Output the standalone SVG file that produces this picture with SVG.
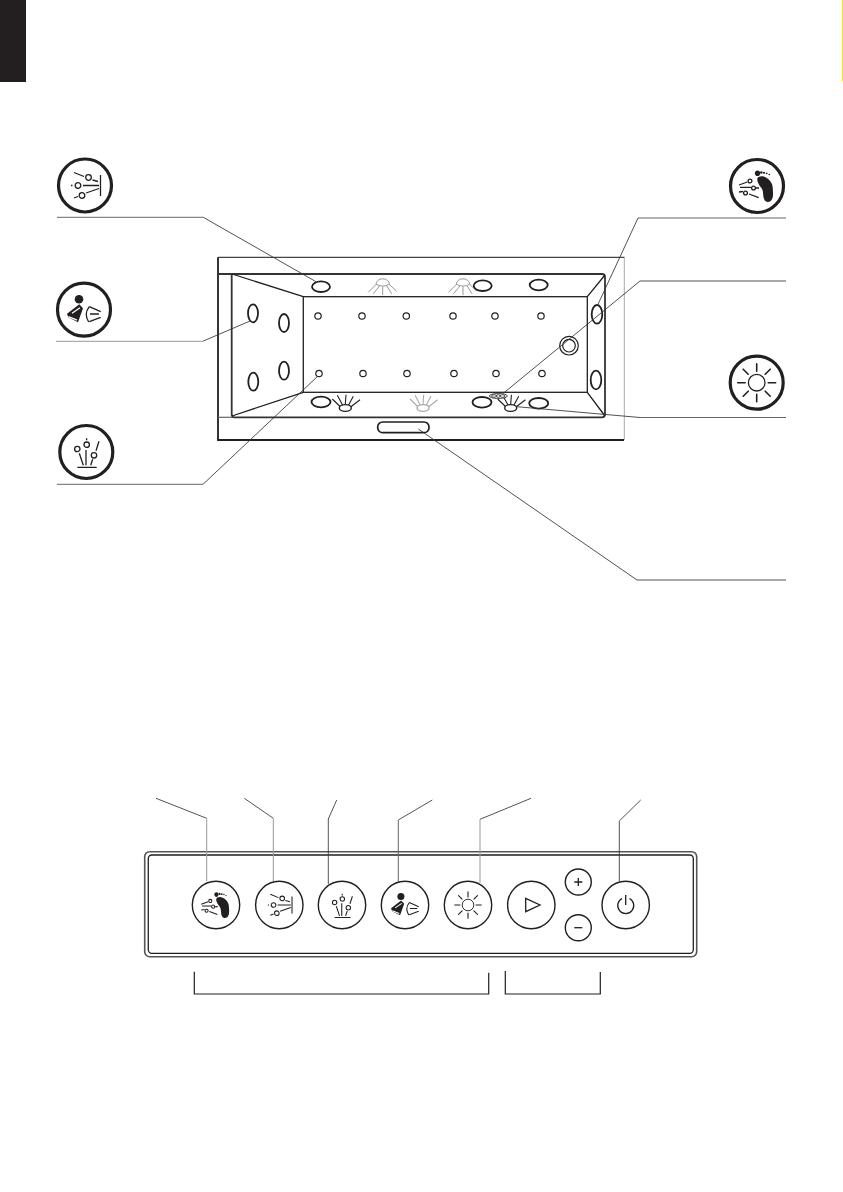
<svg xmlns="http://www.w3.org/2000/svg" xmlns:xlink="http://www.w3.org/1999/xlink" width="843" height="1192" viewBox="0 0 843 1192">
<style>
.i{fill:none;stroke:#231f20;stroke-width:1.3;}
.f{fill:#231f20;stroke:none;}
.ring{fill:none;stroke:#231f20;stroke-width:3.2;}
.btn{fill:none;stroke:#231f20;stroke-width:1.4;}
.t{fill:#fff;stroke:#231f20;stroke-width:1.2;}
.el{fill:#fff;stroke:#231f20;stroke-width:1.8;}
.h{fill:#fff;stroke:#231f20;stroke-width:.8;}
.tub{fill:none;stroke:#231f20;stroke-width:1.3;}
.rim{fill:none;stroke:#333;stroke-width:1.8;stroke-linejoin:round;}
.l{fill:none;stroke:#333;stroke-width:.85;}
.lg{fill:none;stroke:#999;stroke-width:1;}
.lm{fill:none;stroke:#666;stroke-width:1;}
.b{fill:none;stroke:#231f20;stroke-width:1.2;}
</style>
<defs>
<g id="jets"><path class="i" d="M15.500-10.500V10.500M-11-13L-1-9M7.500-5.500L13-4M-14 0H-12.500M-2 0H14M-11 12.500L-7 11M1 7.500L14 3"/><circle class="i" cx="3.500" cy="-8" r="2.800"/><circle class="i" cx="-7" cy="0" r="2.800"/><circle class="i" cx="-3" cy="10" r="2.800"/></g>
<g id="foot"><path class="f" d="M1.500-9C7-12 14.500-6 15.500 0C16 5 16.500 9 15.500 12C14 17 8.500 17 7 13C5.500 9 7 5 4 1.500C1.500-1.500-1.500-7 1.500-9Z"/><ellipse class="f" cx=".5" cy="-12.700" rx="2.600" ry="2.800"/><circle class="f" cx="4.300" cy="-13.500" r="1.300"/><circle class="f" cx="7" cy="-13.200" r="1.100"/><circle class="f" cx="9.700" cy="-12.700" r=".9"/><circle class="f" cx="12.200" cy="-11.500" r=".8"/><path class="i" d="M-18-1L-9.700-4M-17 1.300H-6M-1 2H2M-18 6L-14 5.500M-8 8L1.700 11.700"/><circle class="i" cx="-7" cy="-5" r="1.900"/><circle class="i" cx="-3.500" cy="2" r="1.900"/><circle class="i" cx="-11.500" cy="7" r="1.900"/></g>
<g id="person"><circle class="f" cx="-5" cy="-10.400" r="4.300"/><path class="f" d="M-17 4L-4.700-5.500L-1-1.500L-6 12.500L-15.700 7.600Z"/><path d="M-12 3.500L-4-2M-15.500 7L-7 10.500" fill="none" stroke="#fff" stroke-width="1.300"/><path class="i" d="M5.300-3Q-.5 4.300 4.700 12.300M5.300-3L16.700 2M5.300 12L16.700 7.600M6 4.300H15"/></g>
<g id="nozzle"><circle class="i" cx="-9" cy="-3" r="2.700"/><circle class="i" cx=".4" cy="-7.300" r="2.700"/><circle class="i" cx="7.700" cy="3.300" r="2.700"/><path class="i" d="M-9 15.300H10.400M.3-13.700V-11.700M-.3-2V13.300M-7 1.300L-3 13.300M4.400 13.300L6.400 7.300M9.700-1.300L12.700-10.700"/></g>
<g id="sun"><circle class="i" cx="0" cy="0" r="8.300"/><path fill="none" stroke="#231f20" stroke-width="1.600" stroke-linecap="round" d="M0-11.500V-19M0 11.500V19M-11.500 0H-19M11.500 0H19M-8.500-8.500L-13.500-13.500M8.500-8.500L13.500-13.500M-8.500 8.500L-13.500 13.500M8.500 8.500L13.500 13.500"/></g>
<g id="lightTop"><path d="M-6.700 1A6.700 5.500 0 0 1 6.700 1Q0 4.500-6.700 1ZM-14.500 9L-6.500 1M-9.500 10.500L-3 2.500M0 3V12M4 2.500L9 10.500M6.500 1L14 8" fill="none" stroke="#999" stroke-width="1"/></g>
<g id="lightB"><path d="M-13-9L-4.700-1M-8-12.700L-2.700-3M.7-13.300L0-3.700M8-11.700L3.300-3M14.700-8.300L5.300-1" fill="none" stroke="#231f20" stroke-width="1.100"/><ellipse cx="0" cy="0" rx="6" ry="3.400" fill="#fff" stroke="#231f20" stroke-width="1.400"/></g>
<g id="lightG"><path d="M-13-9L-4.700-1M-8-12.700L-2.700-3M.7-13.300L0-3.700M8-11.700L3.300-3M14.700-8.300L5.300-1" fill="none" stroke="#aaa" stroke-width="1.100"/><ellipse cx="0" cy="0" rx="6" ry="3.400" fill="#fff" stroke="#aaa" stroke-width="1.400"/></g>
</defs>

<rect id="tab" x="0" y="0" width="26" height="82" fill="#231f20"/>
<rect id="edge-mark" x="842" y="0" width="1" height="81" fill="#ffed00"/>

<g id="icon-jets"><circle class="ring" cx="85" cy="185.500" r="26.500"/><use xlink:href="#jets" href="#jets" transform="translate(85 185.500)"/></g>
<g id="icon-person"><circle class="ring" cx="84" cy="309.700" r="26.500"/><use xlink:href="#person" href="#person" transform="translate(84 309.700)"/></g>
<g id="icon-nozzle"><circle class="ring" cx="86.300" cy="452" r="26.500"/><use xlink:href="#nozzle" href="#nozzle" transform="translate(86.300 452)"/></g>
<g id="icon-foot"><circle class="ring" cx="757" cy="186" r="26.500"/><use xlink:href="#foot" href="#foot" transform="translate(757 186)"/></g>
<g id="icon-sun"><circle class="ring" cx="756.700" cy="382.700" r="26.500"/><use xlink:href="#sun" href="#sun" transform="translate(756.700 382.700)"/></g>

<g id="tub">
<path d="M624.300 257.300V440" fill="none" stroke="#aaa" stroke-width="1"/>
<path d="M218 257.300H624.300" fill="none" stroke="#444" stroke-width="1.200"/>
<path d="M218 257.300V440H624" fill="none" stroke="#231f20" stroke-width="1.800"/>
<path class="rim" d="M218 274H602Q605 274 605 277V414Q605 417.300 602 417.300H234Q231.700 417.300 231.700 414V274"/>
<path d="M218 417.300H232" fill="none" stroke="#666" stroke-width="1.200"/>
<rect class="tub" x="303.300" y="296.700" width="284" height="95.600"/>
<path class="tub" d="M232 274L303.300 296.700M232 416L303.300 392.300M605 275L587.300 296.700M605 416L587.300 392.300"/>
<use xlink:href="#lightTop" href="#lightTop" transform="translate(382.700 283.300)"/>
<use xlink:href="#lightTop" href="#lightTop" transform="translate(463 283.300)"/>
<ellipse class="el" cx="321" cy="286.700" rx="9" ry="5.300"/><ellipse class="el" cx="482.700" cy="285.700" rx="9" ry="5.300"/><ellipse class="el" cx="538.700" cy="285" rx="9" ry="5.300"/>
<ellipse class="el" cx="253" cy="313.300" rx="5" ry="9"/><ellipse class="el" cx="284" cy="323" rx="5" ry="9"/><ellipse class="el" cx="284" cy="370.700" rx="5" ry="9"/><ellipse class="el" cx="253.300" cy="381.700" rx="5" ry="9"/>
<ellipse class="el" cx="597" cy="314.300" rx="5.300" ry="9.300"/><ellipse class="el" cx="596" cy="380" rx="5.300" ry="9.300"/>
<ellipse class="el" cx="321" cy="402" rx="9.500" ry="5.300"/><ellipse class="el" cx="482" cy="402.300" rx="9.500" ry="5.300"/><ellipse class="el" cx="538.700" cy="403.300" rx="9.500" ry="5.300"/>
<g class="nozzles">
<circle class="t" cx="318" cy="316" r="3.200"/><circle class="t" cx="362" cy="316" r="3.200"/><circle class="t" cx="406.300" cy="316" r="3.200"/><circle class="t" cx="453" cy="316" r="3.200"/><circle class="t" cx="495" cy="316" r="3.200"/><circle class="t" cx="541" cy="316" r="3.200"/>
<circle class="t" cx="319" cy="373.500" r="3.200"/><circle class="t" cx="363" cy="373.500" r="3.200"/><circle class="t" cx="407" cy="373.500" r="3.200"/><circle class="t" cx="454" cy="373.500" r="3.200"/><circle class="t" cx="496" cy="373.500" r="3.200"/><circle class="t" cx="542" cy="373.500" r="3.200"/>
</g>
<use xlink:href="#lightB" href="#lightB" transform="translate(345.300 408)"/>
<use xlink:href="#lightG" href="#lightG" transform="translate(423 408)"/>
<use xlink:href="#lightB" href="#lightB" transform="translate(510.700 408)"/>
<circle class="t" cx="569" cy="345.700" r="9.300"/><circle class="t" cx="569" cy="345.700" r="6.300" stroke-width="1.500"/>
<g id="overflow"><ellipse class="h" cx="498.300" cy="396" rx="9" ry="2.500"/><ellipse class="h" cx="494" cy="396" rx="2.500" ry="1.300"/><ellipse class="h" cx="498.300" cy="396" rx="2" ry="1.300"/><ellipse class="h" cx="502.500" cy="396" rx="2.500" ry="1.300"/></g>
<rect x="377.700" y="422" width="51.300" height="10.700" rx="5" fill="#fff" stroke="#231f20" stroke-width="1.700"/>
</g>

<g id="panel">
<rect x="144.700" y="851.700" width="552" height="105" rx="5" fill="#fff" stroke="#555" stroke-width="1.600"/>
<rect x="148.300" y="855" width="545" height="98.300" rx="3.500" fill="none" stroke="#231f20" stroke-width="1.300"/>
</g>

<g id="connectors">
<path class="lm" d="M57 217.300H203.300"/><path class="l" d="M203.300 217.300L316 281.700"/>
<path class="lg" d="M56 341.300H202.700"/><path class="l" d="M202.700 341.300L250 321"/>
<path class="lm" d="M57 484.300H203"/><path class="l" d="M203 484.300L318 376"/>
<path class="lm" d="M786 218H638"/><path class="l" d="M638 218L597.700 305"/>
<path class="l" d="M786 281H640L503.300 393.300"/>
<path class="lm" d="M786 417.500H640"/><path class="l" d="M640 417.500L516.700 406.700"/>
<path class="l" d="M418.300 429L637 580H786"/>
<path class="l" d="M156 798.300L206.700 818.300"/><path class="lg" d="M206.700 818.300V881.300"/>
<path class="l" d="M244.300 798.300L273.300 818.300"/><path class="lg" d="M273.300 818.300V881.500"/>
<path class="l" d="M336.700 800L328.300 819V884"/>
<path class="l" d="M432.300 800L398.300 820"/><path class="lm" d="M398.300 820V882"/>
<path class="l" d="M531 798.300L480 819.300"/><path class="lg" d="M480 819.300V883"/>
<path class="l" d="M640.700 800L619.300 821V881.500"/>
</g>

<g id="btn-foot"><circle class="btn" cx="216" cy="905" r="23.700"/><use xlink:href="#foot" href="#foot" transform="translate(216 905) scale(.82)"/></g>
<g id="btn-jets"><circle class="btn" cx="279.300" cy="905" r="23.700"/><use xlink:href="#jets" href="#jets" transform="translate(279.300 905) scale(.82)"/></g>
<g id="btn-nozzle"><circle class="btn" cx="342" cy="905" r="23.700"/><use xlink:href="#nozzle" href="#nozzle" transform="translate(342 905) scale(.82)"/></g>
<g id="btn-person"><circle class="btn" cx="405" cy="905" r="23.700"/><use xlink:href="#person" href="#person" transform="translate(405 905) scale(.82)"/></g>
<g id="btn-sun"><circle class="btn" cx="468" cy="905" r="23.700"/><use xlink:href="#sun" href="#sun" transform="translate(468 905) scale(.7)"/></g>
<g id="btn-play"><circle class="btn" cx="531.300" cy="905" r="23.700"/><path class="i" d="M525.700 898.300L540 905L525.700 911.700Z"/></g>
<g id="btn-plus"><circle class="btn" cx="578.300" cy="882" r="13"/><path class="i" d="M574.300 882H582.300M578.300 878V886"/></g>
<g id="btn-minus"><circle class="btn" cx="578.300" cy="927.700" r="13"/><path class="i" d="M574.300 927.700H582.300"/></g>
<g id="btn-power"><circle class="btn" cx="625.700" cy="905" r="23.700"/><path class="i" d="M622 898.500A8 8 0 1 0 629.500 898.500M625.700 895V905"/></g>

<g id="brackets">
<path class="b" d="M194.300 971.700V994H488.700V972.700"/>
<path class="b" d="M505.300 971V994H600.300V972"/>
</g>
</svg>
